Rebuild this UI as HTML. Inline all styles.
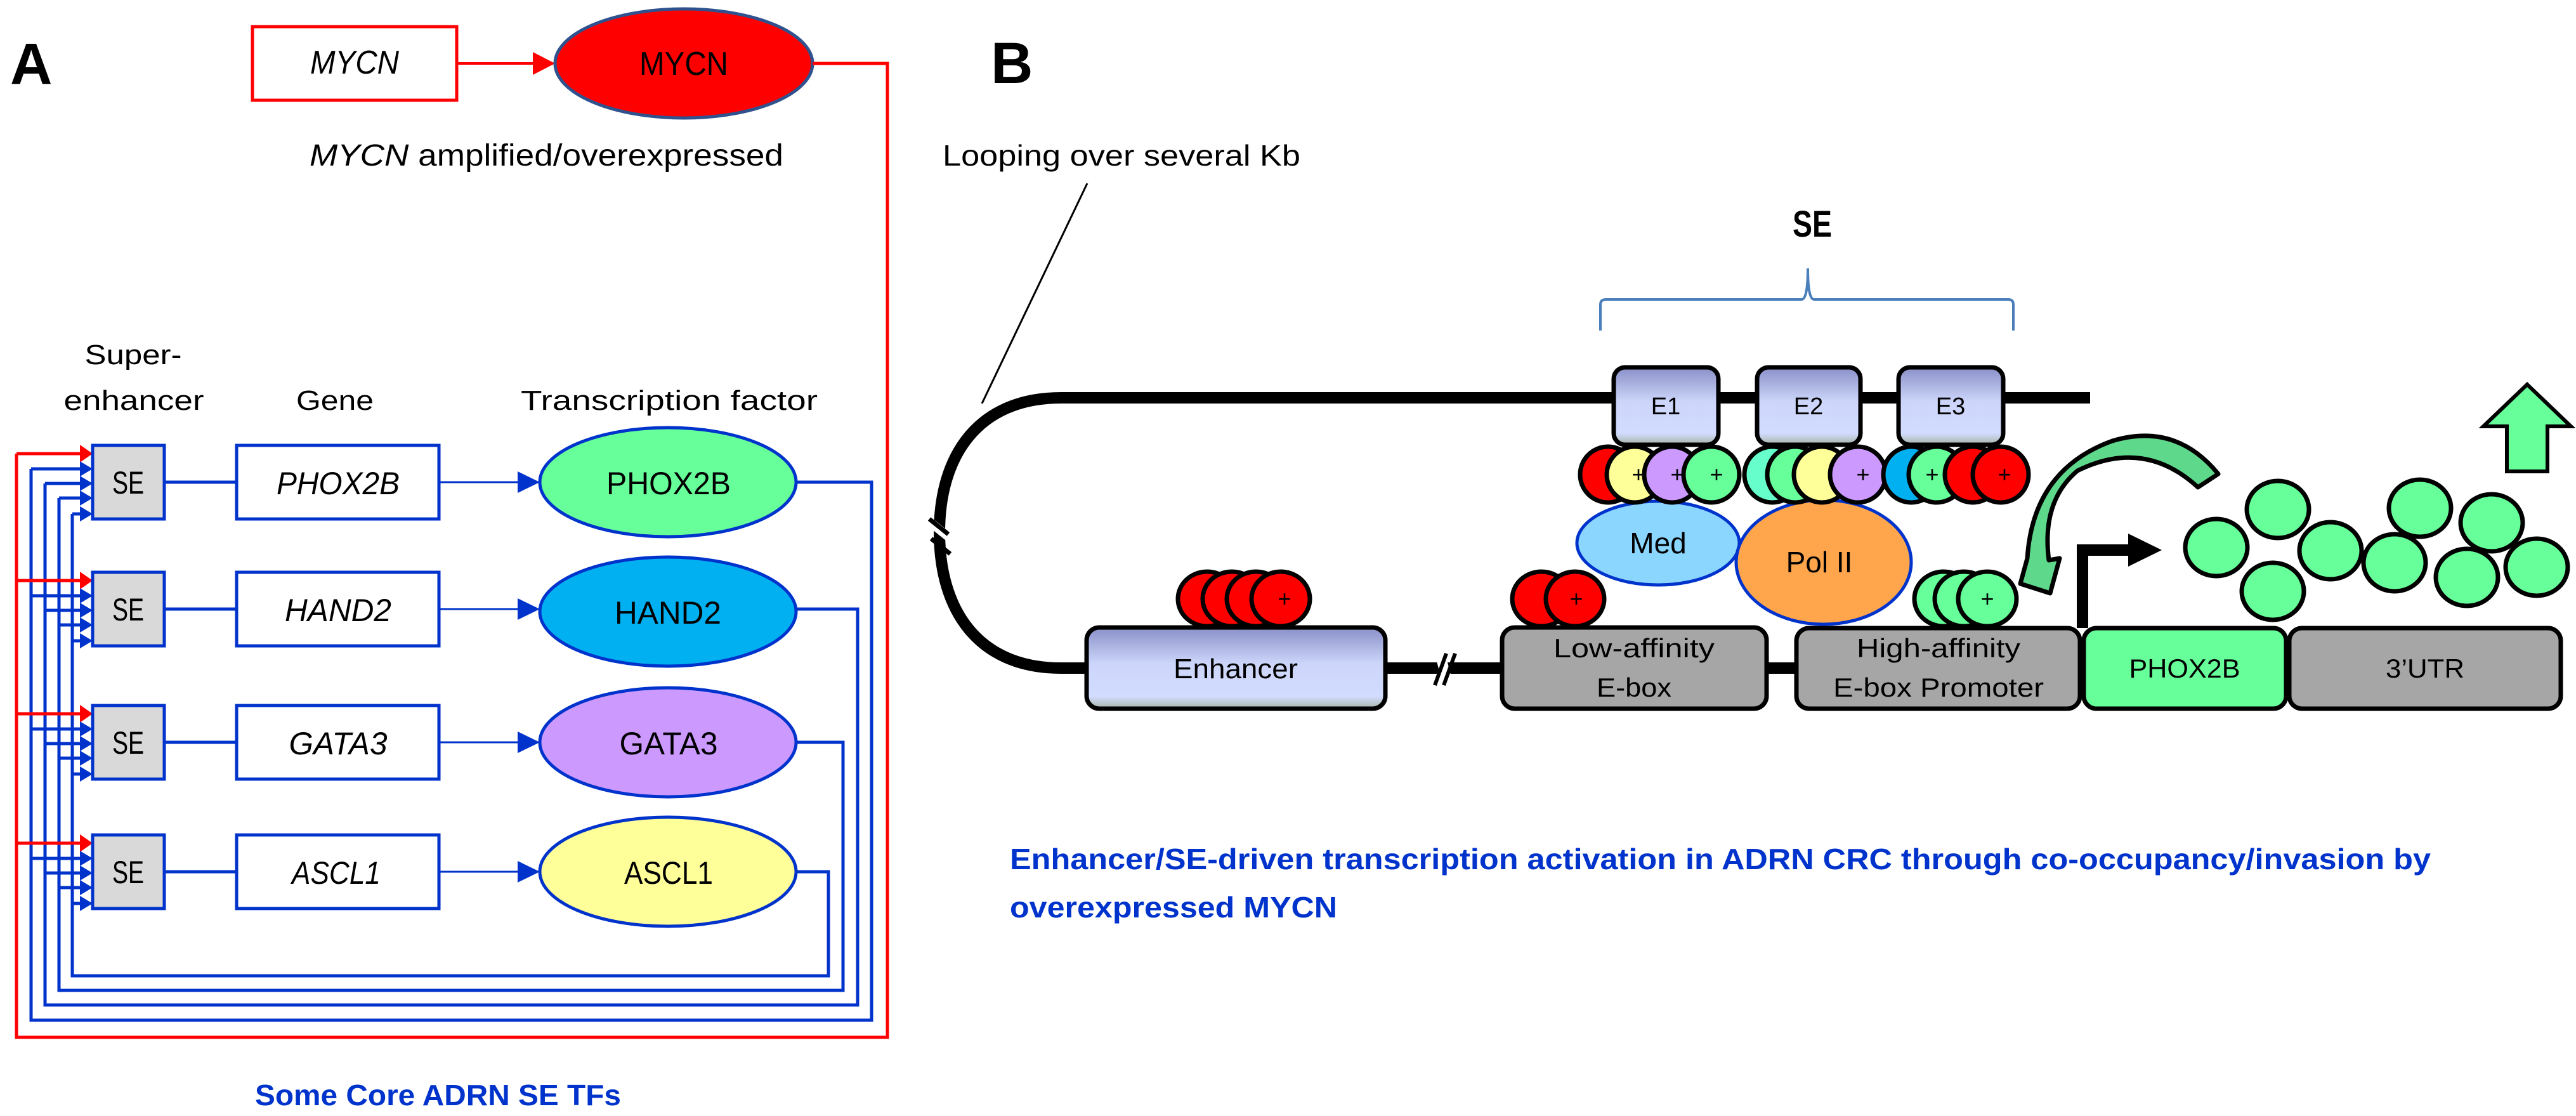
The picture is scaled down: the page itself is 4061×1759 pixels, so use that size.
<!DOCTYPE html>
<html><head><meta charset="utf-8"><style>
html,body{margin:0;padding:0;background:#fff;}
svg{display:block;}
text{font-family:"Liberation Sans",sans-serif;}
</style></head><body>
<svg width="4061" height="1759" viewBox="0 0 4061 1759" xmlns="http://www.w3.org/2000/svg">
<defs>
<linearGradient id="lav" x1="0" y1="0" x2="0" y2="1">
<stop offset="0" stop-color="#8A90C8"/><stop offset="0.45" stop-color="#CDD6FA"/><stop offset="0.85" stop-color="#D2DCFF"/><stop offset="1" stop-color="#A6B4A6"/>
</linearGradient>
</defs>
<!-- ================= PANEL A ================= -->
<text x="16" y="132" font-size="92" font-weight="bold">A</text>
<rect x="398" y="42" width="322" height="116" fill="#fff" stroke="#FF0000" stroke-width="5"/>
<text x="559" y="116" font-size="52" font-style="italic" text-anchor="middle" textLength="140" lengthAdjust="spacingAndGlyphs">MYCN</text>
<line x1="720" y1="100" x2="850" y2="100" stroke="#FF0000" stroke-width="4"/>
<polygon points="840,82 875,100 840,118" fill="#FF0000"/>
<ellipse cx="1078" cy="100" rx="203" ry="86" fill="#FF0000" stroke="#2F528F" stroke-width="5"/>
<text x="1078" y="118" font-size="52" text-anchor="middle" textLength="140" lengthAdjust="spacingAndGlyphs">MYCN</text>
<text x="488" y="261" font-size="48" textLength="747" lengthAdjust="spacingAndGlyphs"><tspan font-style="italic">MYCN</tspan> amplified/overexpressed</text>

<text x="210" y="574" font-size="44" text-anchor="middle" textLength="153" lengthAdjust="spacingAndGlyphs">Super-</text>
<text x="211" y="646" font-size="44" text-anchor="middle" textLength="221" lengthAdjust="spacingAndGlyphs">enhancer</text>
<text x="528" y="646" font-size="44" text-anchor="middle" textLength="122" lengthAdjust="spacingAndGlyphs">Gene</text>
<text x="1055" y="646" font-size="44" text-anchor="middle" textLength="468" lengthAdjust="spacingAndGlyphs">Transcription factor</text>

<g fill="none" stroke-width="5">
<polyline points="1281,100 1399,100 1399,1635 26,1635 26,715" stroke="#FF0000"/>
<polyline points="1255,760 1374,760 1374,1608 49,1608 49,739" stroke="#0033CC"/>
<polyline points="1255,960 1352,960 1352,1584 71,1584 71,762" stroke="#0033CC"/>
<polyline points="1255,1170 1329,1170 1329,1561 93,1561 93,785" stroke="#0033CC"/>
<polyline points="1255,1374 1306,1374 1306,1538 114,1538 114,810" stroke="#0033CC"/>
</g>

<g stroke-width="5">
<line x1="26" y1="715" x2="130" y2="715" stroke="#FF0000"/><polygon points="126,701 146,715 126,729" fill="#FF0000"/>
<line x1="49" y1="739" x2="130" y2="739" stroke="#0033CC"/><polygon points="126,727 146,739 126,751" fill="#0033CC"/>
<line x1="71" y1="762" x2="130" y2="762" stroke="#0033CC"/><polygon points="126,750 146,762 126,774" fill="#0033CC"/>
<line x1="93" y1="785" x2="130" y2="785" stroke="#0033CC"/><polygon points="126,773 146,785 126,797" fill="#0033CC"/>
<line x1="114" y1="810" x2="130" y2="810" stroke="#0033CC"/><polygon points="126,798 146,810 126,822" fill="#0033CC"/>
<line x1="26" y1="915" x2="130" y2="915" stroke="#FF0000"/><polygon points="126,901 146,915 126,929" fill="#FF0000"/>
<line x1="49" y1="939" x2="130" y2="939" stroke="#0033CC"/><polygon points="126,927 146,939 126,951" fill="#0033CC"/>
<line x1="71" y1="962" x2="130" y2="962" stroke="#0033CC"/><polygon points="126,950 146,962 126,974" fill="#0033CC"/>
<line x1="93" y1="985" x2="130" y2="985" stroke="#0033CC"/><polygon points="126,973 146,985 126,997" fill="#0033CC"/>
<line x1="114" y1="1010" x2="130" y2="1010" stroke="#0033CC"/><polygon points="126,998 146,1010 126,1022" fill="#0033CC"/>
<line x1="26" y1="1125" x2="130" y2="1125" stroke="#FF0000"/><polygon points="126,1111 146,1125 126,1139" fill="#FF0000"/>
<line x1="49" y1="1149" x2="130" y2="1149" stroke="#0033CC"/><polygon points="126,1137 146,1149 126,1161" fill="#0033CC"/>
<line x1="71" y1="1172" x2="130" y2="1172" stroke="#0033CC"/><polygon points="126,1160 146,1172 126,1184" fill="#0033CC"/>
<line x1="93" y1="1195" x2="130" y2="1195" stroke="#0033CC"/><polygon points="126,1183 146,1195 126,1207" fill="#0033CC"/>
<line x1="114" y1="1220" x2="130" y2="1220" stroke="#0033CC"/><polygon points="126,1208 146,1220 126,1232" fill="#0033CC"/>
<line x1="26" y1="1329" x2="130" y2="1329" stroke="#FF0000"/><polygon points="126,1315 146,1329 126,1343" fill="#FF0000"/>
<line x1="49" y1="1353" x2="130" y2="1353" stroke="#0033CC"/><polygon points="126,1341 146,1353 126,1365" fill="#0033CC"/>
<line x1="71" y1="1376" x2="130" y2="1376" stroke="#0033CC"/><polygon points="126,1364 146,1376 126,1388" fill="#0033CC"/>
<line x1="93" y1="1399" x2="130" y2="1399" stroke="#0033CC"/><polygon points="126,1387 146,1399 126,1411" fill="#0033CC"/>
<line x1="114" y1="1424" x2="130" y2="1424" stroke="#0033CC"/><polygon points="126,1412 146,1424 126,1436" fill="#0033CC"/>
</g>

<g stroke="#0033CC" stroke-width="5">
<line x1="259" y1="760" x2="373" y2="760"/><line x1="692" y1="760" x2="820" y2="760" stroke-width="3"/>
<line x1="259" y1="960" x2="373" y2="960"/><line x1="692" y1="960" x2="820" y2="960" stroke-width="3"/>
<line x1="259" y1="1170" x2="373" y2="1170"/><line x1="692" y1="1170" x2="820" y2="1170" stroke-width="3"/>
<line x1="259" y1="1374" x2="373" y2="1374"/><line x1="692" y1="1374" x2="820" y2="1374" stroke-width="3"/>
</g>
<g fill="#0033CC">
<polygon points="816,743 851,760 816,777"/><polygon points="816,943 851,960 816,977"/>
<polygon points="816,1153 851,1170 816,1187"/><polygon points="816,1357 851,1374 816,1391"/>
</g>
<g stroke="#0033CC" stroke-width="5">
<rect x="146" y="702" width="113" height="116" fill="#D9D9D9"/>
<rect x="146" y="902" width="113" height="116" fill="#D9D9D9"/>
<rect x="146" y="1112" width="113" height="116" fill="#D9D9D9"/>
<rect x="146" y="1316" width="113" height="116" fill="#D9D9D9"/>
<rect x="373" y="702" width="319" height="116" fill="#fff"/>
<rect x="373" y="902" width="319" height="116" fill="#fff"/>
<rect x="373" y="1112" width="319" height="116" fill="#fff"/>
<rect x="373" y="1316" width="319" height="116" fill="#fff"/>
<ellipse cx="1053" cy="760" rx="202" ry="86" fill="#66FF99"/>
<ellipse cx="1053" cy="964" rx="202" ry="86" fill="#00B0F0"/>
<ellipse cx="1053" cy="1170" rx="202" ry="86" fill="#CC99FF"/>
<ellipse cx="1053" cy="1374" rx="202" ry="86" fill="#FFFF99"/>
</g>
<g font-size="50" text-anchor="middle">
<text x="202" y="778" textLength="50" lengthAdjust="spacingAndGlyphs">SE</text>
<text x="202" y="978" textLength="50" lengthAdjust="spacingAndGlyphs">SE</text>
<text x="202" y="1188" textLength="50" lengthAdjust="spacingAndGlyphs">SE</text>
<text x="202" y="1392" textLength="50" lengthAdjust="spacingAndGlyphs">SE</text>
<g font-style="italic">
<text x="533" y="779" textLength="194" lengthAdjust="spacingAndGlyphs">PHOX2B</text>
<text x="533" y="979" textLength="168" lengthAdjust="spacingAndGlyphs">HAND2</text>
<text x="533" y="1189" textLength="155" lengthAdjust="spacingAndGlyphs">GATA3</text>
<text x="530" y="1393" textLength="140" lengthAdjust="spacingAndGlyphs">ASCL1</text>
</g>
<text x="1054" y="779" textLength="196" lengthAdjust="spacingAndGlyphs">PHOX2B</text>
<text x="1053" y="983" textLength="168" lengthAdjust="spacingAndGlyphs">HAND2</text>
<text x="1054" y="1189" textLength="155" lengthAdjust="spacingAndGlyphs">GATA3</text>
<text x="1054" y="1393" textLength="140" lengthAdjust="spacingAndGlyphs">ASCL1</text>
</g>
<text x="402" y="1742" font-size="46" font-weight="bold" fill="#0033CC" textLength="577" lengthAdjust="spacingAndGlyphs">Some Core ADRN SE TFs</text>

<!-- ================= PANEL B ================= -->
<text x="1562" y="131" font-size="92" font-weight="bold">B</text>
<text x="1486" y="261" font-size="46" textLength="564" lengthAdjust="spacingAndGlyphs">Looping over several Kb</text>
<line x1="1714" y1="289" x2="1548" y2="636" stroke="#000" stroke-width="3"/>
<text x="2826" y="373" font-size="58" font-weight="bold" textLength="62" lengthAdjust="spacingAndGlyphs">SE</text>
<path d="M2523,521 L2523,480 Q2523,472 2532,472 L2840,472 Q2850,472 2850,423 Q2850,472 2860,472 L3166,472 Q3174,472 3174,480 L3174,521" fill="none" stroke="#4A7EBB" stroke-width="4"/>

<g fill="none" stroke="#000" stroke-width="18">
<line x1="1673" y1="627" x2="3295" y2="627"/>
<path d="M1673,627 C1540,627 1481,720 1481,839 C1481,960 1540,1053 1673,1053"/>
<line x1="1673" y1="1053" x2="2368" y2="1053"/>
<line x1="2785" y1="1053" x2="2832" y2="1053"/>
</g>
<line x1="1470" y1="826" x2="1500" y2="850" stroke="#fff" stroke-width="14"/>
<line x1="1465" y1="818" x2="1495" y2="842" stroke="#000" stroke-width="7"/>
<line x1="1468" y1="849" x2="1498" y2="873" stroke="#000" stroke-width="7"/>
<line x1="2270" y1="1030" x2="2282" y2="1076" stroke="#fff" stroke-width="16"/>
<line x1="2262" y1="1080" x2="2280" y2="1030" stroke="#000" stroke-width="6"/>
<line x1="2276" y1="1080" x2="2294" y2="1030" stroke="#000" stroke-width="6"/>

<g stroke="#000" stroke-width="7" fill="url(#lav)">
<rect x="2544" y="579" width="165" height="122" rx="18"/>
<rect x="2770" y="579" width="163" height="122" rx="18"/>
<rect x="2993" y="579" width="165" height="122" rx="18"/>
<rect x="1713" y="989" width="471" height="128" rx="20"/>
</g>
<g font-size="38" text-anchor="middle">
<text x="2626" y="653">E1</text><text x="2851" y="653">E2</text><text x="3075" y="653">E3</text>
</g>
<text x="1948" y="1069" font-size="44" text-anchor="middle" textLength="196" lengthAdjust="spacingAndGlyphs">Enhancer</text>

<g stroke="#000" stroke-width="7">
<rect x="2368" y="989" width="417" height="128" rx="20" fill="#A6A6A6"/>
<rect x="2832" y="990" width="447" height="127" rx="20" fill="#A6A6A6"/>
<rect x="3285" y="990" width="319" height="127" rx="20" fill="#66FF99"/>
<rect x="3609" y="990" width="428" height="127" rx="20" fill="#A6A6A6"/>
</g>
<g font-size="42" text-anchor="middle">
<text x="2576" y="1036" textLength="254" lengthAdjust="spacingAndGlyphs">Low-affinity</text>
<text x="2576" y="1098" textLength="118" lengthAdjust="spacingAndGlyphs">E-box</text>
<text x="3056" y="1036" textLength="258" lengthAdjust="spacingAndGlyphs">High-affinity</text>
<text x="3056" y="1098" textLength="332" lengthAdjust="spacingAndGlyphs">E-box Promoter</text>
<text x="3444" y="1068" textLength="175" lengthAdjust="spacingAndGlyphs">PHOX2B</text>
<text x="3823" y="1068" textLength="124" lengthAdjust="spacingAndGlyphs">3’UTR</text>
</g>

<ellipse cx="2614" cy="856" rx="128" ry="66" fill="#8AD6FF" stroke="#0033CC" stroke-width="5"/>
<text x="2614" y="872" font-size="46" text-anchor="middle">Med</text>
<ellipse cx="2875" cy="886" rx="138" ry="98" fill="#FFA64D" stroke="#0033CC" stroke-width="5"/>
<text x="2868" y="902" font-size="46" text-anchor="middle">Pol II</text>

<g stroke="#000" stroke-width="7">
<ellipse cx="2535" cy="748" rx="44" ry="44" fill="#FF0000"/>
<ellipse cx="2577" cy="748" rx="44" ry="44" fill="#FFFF99"/>
<ellipse cx="2636" cy="748" rx="44" ry="44" fill="#CC99FF"/>
<ellipse cx="2698" cy="748" rx="44" ry="44" fill="#66FF99"/>
<ellipse cx="2794" cy="748" rx="44" ry="44" fill="#66FFCC"/>
<ellipse cx="2830" cy="748" rx="44" ry="44" fill="#66FF99"/>
<ellipse cx="2872" cy="748" rx="44" ry="44" fill="#FFFF99"/>
<ellipse cx="2929" cy="748" rx="44" ry="44" fill="#CC99FF"/>
<ellipse cx="3013" cy="748" rx="44" ry="44" fill="#00B0F0"/>
<ellipse cx="3053" cy="748" rx="44" ry="44" fill="#66FF99"/>
<ellipse cx="3110" cy="748" rx="44" ry="44" fill="#FF0000"/>
<ellipse cx="3154" cy="748" rx="44" ry="44" fill="#FF0000"/>
<ellipse cx="1903" cy="944" rx="46" ry="43" fill="#FF0000"/>
<ellipse cx="1942" cy="944" rx="46" ry="43" fill="#FF0000"/>
<ellipse cx="1980" cy="944" rx="46" ry="43" fill="#FF0000"/>
<ellipse cx="2019" cy="944" rx="46" ry="43" fill="#FF0000"/>
<ellipse cx="2430" cy="944" rx="46" ry="43" fill="#FF0000"/>
<ellipse cx="2483" cy="944" rx="46" ry="43" fill="#FF0000"/>
<ellipse cx="3064" cy="944" rx="46" ry="43" fill="#66FF99"/>
<ellipse cx="3096" cy="944" rx="46" ry="43" fill="#66FF99"/>
<ellipse cx="3133" cy="944" rx="46" ry="43" fill="#66FF99"/>
</g>
<g font-size="36" text-anchor="middle">
<text x="2583" y="760">+</text><text x="2644" y="760">+</text><text x="2706" y="760">+</text>
<text x="2937" y="760">+</text><text x="3046" y="760">+</text><text x="3160" y="760">+</text>
<text x="2025" y="956">+</text><text x="2485" y="956">+</text><text x="3133" y="956">+</text>
</g>

<path d="M3497,747 Q3430,665 3330,695 Q3205,740 3196,880 L3185,920 L3232,935 L3247,880 L3230,883 Q3218,790 3275,742 Q3380,690 3465,768 Z" fill="#5ED98C" stroke="#000" stroke-width="7" stroke-linejoin="round"/>

<polyline points="3283,990 3283,867 3360,867" fill="none" stroke="#000" stroke-width="18"/>
<polygon points="3355,841 3408,867 3355,893" fill="#000"/>

<g stroke="#000" stroke-width="7" fill="#66FF99">
<ellipse cx="3494" cy="863" rx="49" ry="45"/>
<ellipse cx="3591" cy="803" rx="49" ry="45"/>
<ellipse cx="3583" cy="932" rx="49" ry="45"/>
<ellipse cx="3674" cy="868" rx="49" ry="45"/>
<ellipse cx="3775" cy="887" rx="49" ry="45"/>
<ellipse cx="3815" cy="801" rx="49" ry="45"/>
<ellipse cx="3889" cy="910" rx="49" ry="45"/>
<ellipse cx="3928" cy="824" rx="49" ry="45"/>
<ellipse cx="3999" cy="894" rx="49" ry="45"/>
</g>
<polygon points="3984,606 4053,672 4016,672 4016,743 3952,743 3952,672 3915,672" fill="#66FF99" stroke="#000" stroke-width="6"/>

<g font-size="46" font-weight="bold" fill="#0033CC">
<text x="1592" y="1370" textLength="2240" lengthAdjust="spacingAndGlyphs">Enhancer/SE-driven transcription activation in ADRN CRC through co-occupancy/invasion by</text>
<text x="1592" y="1446" textLength="516" lengthAdjust="spacingAndGlyphs">overexpressed MYCN</text>
</g>
</svg>
</body></html>
